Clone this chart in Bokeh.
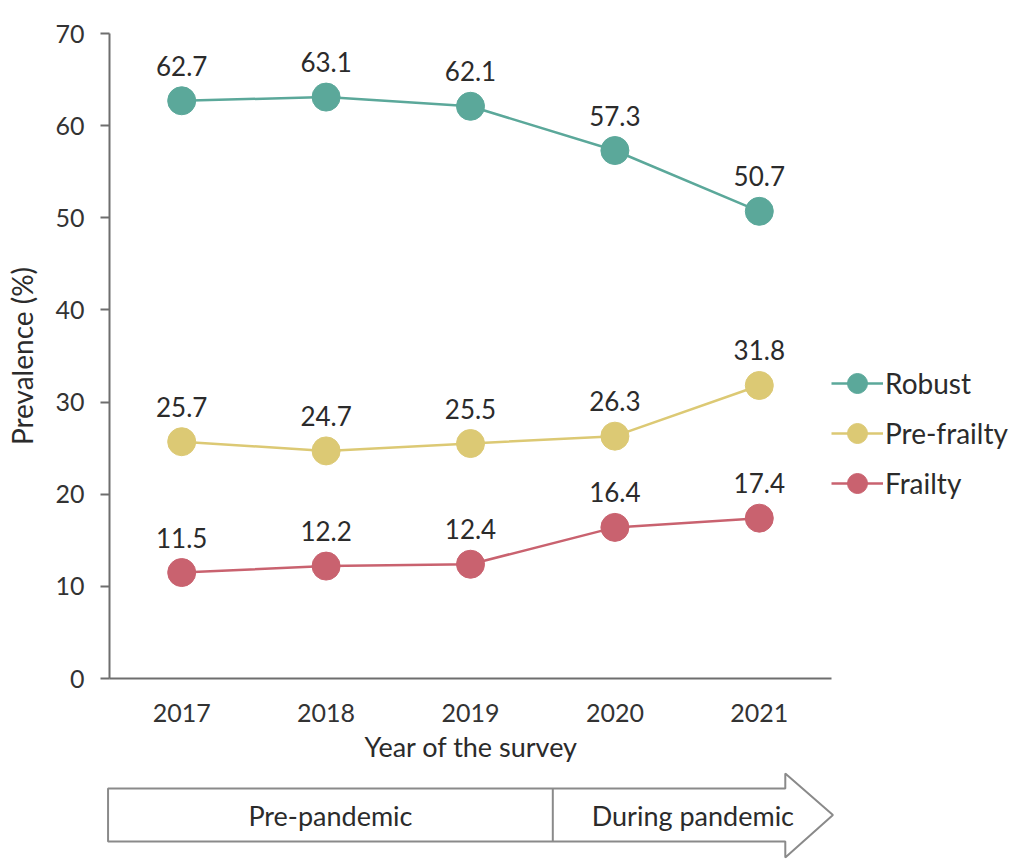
from bokeh.plotting import figure
from bokeh.models import Range1d, FixedTicker, Legend, LegendItem, ColumnDataSource, Title
from bokeh.layouts import column
from bokeh.embed import file_html
from bokeh.resources import INLINE
from bokeh.core.properties import value

# ---------------- data ----------------
years = [2017, 2018, 2019, 2020, 2021]
robust = [62.7, 63.1, 62.1, 57.3, 50.7]
pre_frailty = [25.7, 24.7, 25.5, 26.3, 31.8]
frailty = [11.5, 12.2, 12.4, 16.4, 17.4]
series_names = ["Robust", "Pre-frailty", "Frailty"]
series_colors = ["#5ba89a", "#dcc974", "#c9626f"]
y_ticks = [0, 10, 20, 30, 40, 50, 60, 70]
period_labels = ["Pre-pandemic", "During pandemic"]
period_edges = [2016.49, 2019.57, 2021.51]  # start, boundary, arrow tip

FONT = "Lato"
TXT = "#333333"
AX = "#6e6e6e"

LEFT = 109
AXIS_END_PX = 831
W = 1020
px_per_year = (AXIS_END_PX - LEFT) / 5.0

# ---------------- main chart ----------------
p = figure(width=W, height=768, output_backend="svg", toolbar_location=None,
           x_range=Range1d(2016.5, 2021.5 + (W - AXIS_END_PX) / px_per_year),
           y_range=Range1d(0, 70),
           min_border_top=33, min_border_left=LEFT, min_border_right=0,
           min_border_bottom=90, frame_align=False)
p.outline_line_color = None
p.xgrid.visible = False
p.ygrid.visible = False
p.background_fill_color = "white"
p.border_fill_color = "white"

items = []
for name, vals, col in zip(series_names, [robust, pre_frailty, frailty], series_colors):
    src = ColumnDataSource(dict(x=years, y=vals, lab=[f"{v:.1f}" for v in vals]))
    rl = p.line("x", "y", source=src, line_color=col, line_width=2.5)
    rs = p.scatter("x", "y", source=src, size=28, fill_color=col, line_color=col)
    p.text("x", "y", text="lab", source=src, text_align="center", text_baseline="middle",
           y_offset=-35, text_font=value(FONT), text_font_size="26px", text_color="#2b2b2b")
    items.append(LegendItem(label=name, renderers=[rl, rs]))

yax = p.yaxis[0]
yax.ticker = FixedTicker(ticks=y_ticks)
yax.bounds = (0, 70)
yax.minor_tick_line_color = None
yax.major_tick_in = 0
yax.major_tick_out = 9
yax.axis_line_color = AX
yax.axis_line_width = 2
yax.major_tick_line_color = AX
yax.major_tick_line_width = 2
yax.major_label_standoff = 16
yax.major_label_text_font = FONT
yax.major_label_text_font_size = "25px"
yax.major_label_text_color = TXT
yax.axis_label = "Prevalence (%)"
yax.axis_label_text_font = FONT
yax.axis_label_text_font_size = "28px"
yax.axis_label_text_font_style = "normal"
yax.axis_label_text_color = "#2b2b2b"
yax.axis_label_standoff = 13

xax = p.xaxis[0]
xax.ticker = FixedTicker(ticks=years)
xax.bounds = (2016.5, 2021.5)
xax.minor_tick_line_color = None
xax.major_tick_in = 0
xax.major_tick_out = 0
xax.axis_line_color = AX
xax.axis_line_width = 2
xax.major_label_standoff = 25
xax.major_label_text_font = FONT
xax.major_label_text_font_size = "25px"
xax.major_label_text_color = TXT

# x-axis title placed under the axis span (not under the wider frame)
xtitle_text = "Year of the survey"
xtitle = Title(text=xtitle_text, align="left", offset=255,
               text_font=FONT, text_font_size="27px", text_font_style="normal",
               text_color="#2b2b2b", standoff=7)
p.add_layout(xtitle, "below")

legend = Legend(items=items, location=(AXIS_END_PX - LEFT, 170), orientation="vertical",
                glyph_width=52, glyph_height=50, spacing=0, padding=0, margin=0,
                label_standoff=2, label_text_font=FONT, label_text_font_size="28px",
                label_text_color="#2b2b2b", border_line_color=None,
                background_fill_alpha=0)
p.add_layout(legend)

# ---------------- period arrow ----------------
left_b, right_b = 100, 180
a = figure(width=W, height=98, output_backend="svg", toolbar_location=None,
           x_range=Range1d(2016.5 - (LEFT - left_b) / px_per_year,
                           2021.5 + (W - AXIS_END_PX - right_b) / px_per_year),
           y_range=Range1d(0, 98),
           min_border_top=0, min_border_bottom=0,
           min_border_left=left_b, min_border_right=right_b, frame_align=False)
a.outline_line_color = None
a.axis.visible = False
a.grid.visible = False

x0, xb, tip = period_edges
head = 0.33
xe = tip - head
yb, yt, hb, ht, ym = 25, 78, 9, 93, 51.5
a.patch([x0, xe, xe, tip, xe, xe, x0], [yb, yb, hb, ym, ht, yt, yt],
        fill_color="white", line_color="#8a8a8a", line_width=2)
a.segment(x0=[xb], y0=[yb], x1=[xb], y1=[yt], line_color="#8a8a8a", line_width=2)
a.text(x=[(x0 + xb) / 2, (xb + tip) / 2], y=[ym, ym], text=period_labels,
       text_align="center", text_baseline="middle", text_font=value(FONT),
       text_font_size="27px", text_color="#2b2b2b")

layout = column(p, a, spacing=0)
open("out.html", "w").write(file_html(layout, INLINE))
